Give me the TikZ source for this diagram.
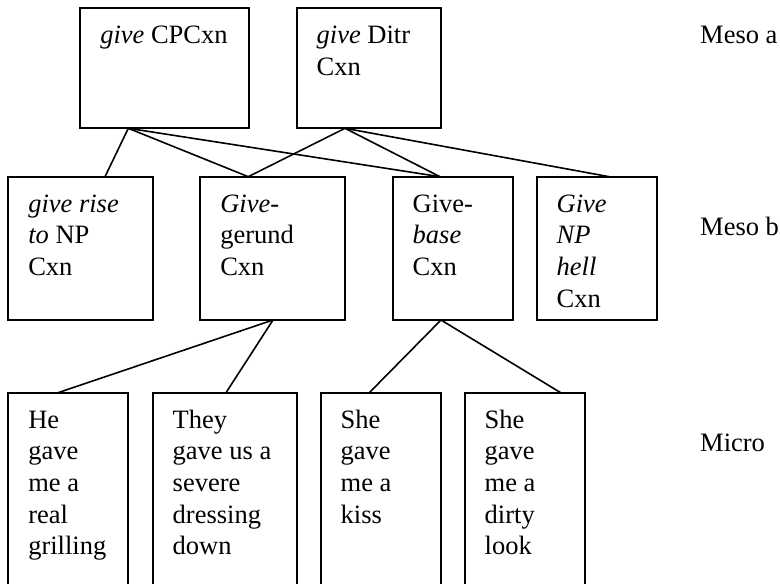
\documentclass[tikz,border=0pt]{standalone}
\usepackage{fontspec}
\setmainfont{Liberation Serif}
\begin{document}
\begin{tikzpicture}[x=1pt,y=-1pt,
  box/.style={draw, line width=1.9pt, rectangle, inner sep=0pt, outer sep=0pt, anchor=north west},
  txt/.style={anchor=north west, inner sep=0pt, outer sep=0pt, align=left,
              font=\fontsize{26.5}{31.6}\selectfont},
  lvl/.style={anchor=base west, inner sep=0pt, font=\fontsize{26.5}{31.6}\selectfont},
  link/.style={line width=1.6pt}]
\useasboundingbox (0,0) rectangle (780,584);
\clip (0,0) rectangle (780,584);

% top-to-first-baseline strut
\newcommand\firstline{\rule{0pt}{35.5pt}}

% Meso a
\node[box, minimum width=168.4pt, minimum height=120pt] (cpc)  at (80.3,8.3) {};
\node[box, minimum width=144pt,   minimum height=120pt] (ditr) at (296.7,8.3) {};

% Meso b
\node[box, minimum width=144.4pt, minimum height=143.3pt] (rise)   at (8.3,176.7) {};
\node[box, minimum width=144.4pt, minimum height=143.3pt] (gerund) at (200.3,176.7) {};
\node[box, minimum width=120.6pt, minimum height=143.3pt] (base)   at (392.7,176.7) {};
\node[box, minimum width=120pt,   minimum height=143.3pt] (hell)   at (536.7,176.7) {};

% Micro
\node[box, minimum width=120pt,   minimum height=210pt] (m1) at (8.3,392.7) {};
\node[box, minimum width=144pt,   minimum height=210pt] (m2) at (152.7,392.7) {};
\node[box, minimum width=120pt,   minimum height=210pt] (m3) at (320.7,392.7) {};
\node[box, minimum width=120.3pt, minimum height=210pt] (m4) at (464.7,392.7) {};

% box texts
\node[txt] (tcpc)    at ([xshift=20pt]cpc.north west)    {\firstline\textit{give} CPCxn};
\node[txt] (tditr)   at ([xshift=20pt]ditr.north west)   {\firstline\textit{give} Ditr\\Cxn};
\node[txt] (trise)   at ([xshift=20pt]rise.north west)   {\firstline\textit{give rise}\\\textit{to} NP\\Cxn};
\node[txt] (tgerund) at ([xshift=20pt]gerund.north west) {\firstline\textit{Give-}\\gerund\\Cxn};
\node[txt] (tbase)   at ([xshift=20pt]base.north west)   {\firstline Give-\\\textit{base}\\Cxn};
\node[txt] (thell)   at ([xshift=20pt]hell.north west)   {\firstline\textit{Give}\\\textit{NP}\\\textit{hell}\\Cxn};
\node[txt] (tm1)     at ([xshift=20pt]m1.north west)     {\firstline He\\gave\\me a\\real\\grilling};
\node[txt] (tm2)     at ([xshift=20pt]m2.north west)     {\firstline They\\gave us a\\severe\\dressing\\down};
\node[txt] (tm3)     at ([xshift=20pt]m3.north west)     {\firstline She\\gave\\me a\\kiss};
\node[txt] (tm4)     at ([xshift=20pt]m4.north west)     {\firstline She\\gave\\me a\\dirty\\look};

% level labels
\node[lvl] (la) at (700,43.3) {Meso a};
\node[lvl] (lb) at (700,235)  {Meso b};
\node[lvl] (lc) at (700,451)  {Micro};

% links Meso a -> Meso b
\draw[link] ([xshift=48pt]cpc.south west) -- ([xshift=96.7pt]rise.north west);
\draw[link] ([xshift=48pt]cpc.south west) -- ([xshift=48pt]gerund.north west);
\draw[link] ([xshift=48pt]cpc.south west) -- ([xshift=47.3pt]base.north west);
\draw[link] ([xshift=48.3pt]ditr.south west) -- ([xshift=48pt]gerund.north west);
\draw[link] ([xshift=48.3pt]ditr.south west) -- ([xshift=47.3pt]base.north west);
\draw[link] ([xshift=48.3pt]ditr.south west) -- ([xshift=72.6pt]hell.north west);

% links Meso b -> Micro
\draw[link] ([xshift=72.7pt]gerund.south west) -- ([xshift=49.7pt]m1.north west);
\draw[link] ([xshift=72.7pt]gerund.south west) -- ([xshift=73.3pt]m2.north west);
\draw[link] ([xshift=48.3pt]base.south west) -- ([xshift=48.6pt]m3.north west);
\draw[link] ([xshift=48.3pt]base.south west) -- ([xshift=96pt]m4.north west);
\end{tikzpicture}
\end{document}
